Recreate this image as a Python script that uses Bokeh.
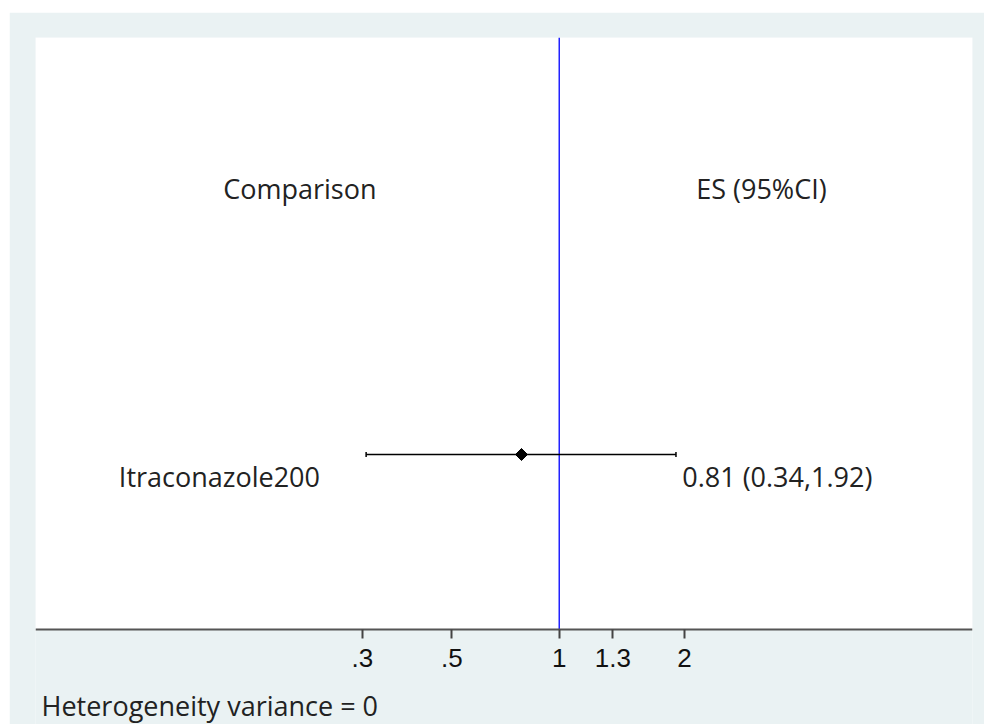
import numpy as np
from bokeh.plotting import figure
from bokeh.models import Range1d, FixedTicker, BoxAnnotation, ColumnDataSource
from bokeh.core.properties import value
from bokeh.embed import file_html
from bokeh.resources import INLINE

# ---- data ----
studies = ["Itraconazole200"]
es = [0.81]
lo = [0.34]
hi = [1.92]
es_text = ["0.81 (0.34,1.92)"]
header_left = "Comparison"
header_right = "ES (95%CI)"
footnote = "Heterogeneity variance = 0"
# ticks are placed at rounded log values, labelled as Stata metan does
tick_logs = [-1.1, -0.6, 0.0, 0.3, 0.7]
tick_labels = [".3", ".5", "1", "1.3", "2"]

TXT_FONT = "Open Sans"
BG = "#EAF2F3"

X0, X1 = -2.926, 2.309
Y0, Y1 = 0.0625, 2.448
AXIS_Y = 0.3924

p = figure(width=975, height=712, output_backend="svg", toolbar_location=None,
           x_range=Range1d(X0, X1), y_range=Range1d(Y0, Y1),
           margin=(12, 0, 0, 9),
           min_border_left=26, min_border_top=25, min_border_right=12, min_border_bottom=0)
p.border_fill_color = BG
p.background_fill_color = BG
p.outline_line_color = None
p.xgrid.visible = False
p.ygrid.visible = False
p.yaxis.visible = False

# white plot region above the axis
p.add_layout(BoxAnnotation(bottom=AXIS_Y, fill_color="white", fill_alpha=1.0,
                           line_color=None, level="underlay"))

ax = p.xaxis[0]
ax.fixed_location = AXIS_Y
ax.ticker = FixedTicker(ticks=tick_logs)
ax.major_label_overrides = {t: l for t, l in zip(tick_logs, tick_labels)}
ax.minor_tick_line_color = None
ax.major_tick_in = 0
ax.major_tick_out = 9
ax.major_tick_line_width = 2
ax.major_tick_line_color = "#444444"
ax.axis_line_width = 2
ax.axis_line_color = "#555555"
ax.major_label_text_font = "Liberation Sans"
ax.major_label_text_font_size = "26px"
ax.major_label_text_color = "#111111"
ax.major_label_standoff = 11

# reference line at 1 (log 0)
p.segment(x0=[0.0], x1=[0.0], y0=[AXIS_Y], y1=[Y1], line_color="#0000FF", line_width=1.3)

ys = [1.0 for _ in studies]
src = ColumnDataSource(dict(
    y=ys, les=np.log(es), llo=np.log(lo), lhi=np.log(hi),
    name=studies, est=es_text))

p.segment(x0="llo", x1="lhi", y0="y", y1="y", source=src, line_color="black", line_width=1.5)
p.scatter(x="llo", y="y", source=src, marker="dash", angle=np.pi / 2, size=5,
          line_color="black", line_width=1.5)
p.scatter(x="lhi", y="y", source=src, marker="dash", angle=np.pi / 2, size=5,
          line_color="black", line_width=1.5)
p.scatter(x="les", y="y", source=src, marker="square", angle=np.pi / 4, size=8.5,
          fill_color="black", line_color="black")

# text columns
name_x = (118.3 - 558.7) / 179.0
est_x = (681.7 - 558.7) / 179.0
hname_x = (222.7 - 558.7) / 179.0
hest_x = (695.7 - 558.7) / 179.0

p.text(x=name_x, y="y", text="name", source=src, text_font=value(TXT_FONT),
       text_font_size="27px", text_color="#222222", text_align="left",
       text_baseline="alphabetic", y_offset=22)
p.text(x=est_x, y="y", text="est", source=src, text_font=value(TXT_FONT),
       text_font_size="27px", text_color="#222222", text_align="left",
       text_baseline="alphabetic", y_offset=22)
hsrc = ColumnDataSource(dict(x=[hname_x, hest_x], y=[2.0, 2.0], t=[header_left, header_right]))
p.text(x="x", y="y", text="t", source=hsrc, text_font=value(TXT_FONT),
       text_font_size="27px", text_color="#222222", text_align="left",
       text_baseline="alphabetic", y_offset=22)

# footnote below the axis
p.text(x=[X0], y=[AXIS_Y], text=[footnote], text_font=value(TXT_FONT),
       text_font_size="27px", text_color="#222222", text_align="left",
       text_baseline="alphabetic", x_offset=6, y_offset=76)

open("out.html", "w").write(file_html(p, INLINE))
